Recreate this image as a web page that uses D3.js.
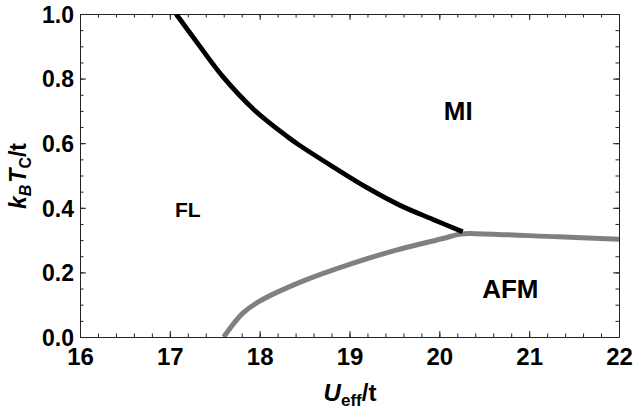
<!DOCTYPE html>
<html>
<head>
<meta charset="utf-8">
<script src="https://cdn.jsdelivr.net/npm/d3@7"></script>
<style>
  body { margin: 0; background: #fff; }
  svg { display: block; font-family: "Liberation Sans", Arial, sans-serif; font-weight: bold; }
  .axis path, .axis line { stroke: #222; stroke-width: 1; }
</style>
</head>
<body>
<div id="wrapper"></div>
<script>
// phase boundaries
const flMiU = [17.07, 17.31, 17.59, 17.94, 18.31, 18.44, 18.81, 19.19, 19.56, 19.93, 20.26];
const flMiT = [1.0, 0.909, 0.806, 0.703, 0.62, 0.594, 0.528, 0.463, 0.408, 0.364, 0.326];

const afmU = [17.6, 17.81, 18.0, 18.48, 19.0, 19.52, 20.04, 20.24, 20.4, 21.33, 22];
const afmT = [0, 0.073, 0.111, 0.173, 0.225, 0.269, 0.305, 0.319, 0.32, 0.31, 0.303];

const xTicks = [16, 17, 18, 19, 20, 21, 22];
const yTicks = [0, 0.2, 0.4, 0.6, 0.8, 1.0];
const xMinor = d3.range(16, 22.001, 0.2);
const yMinor = d3.range(0, 1.0001, 0.05);

const phaseLabels = [
  { text: "MI", u: 20.21, t: 0.672, size: 26 },
  { text: "FL", u: 17.2, t: 0.372, size: 21 },
  { text: "AFM", u: 20.79, t: 0.121, size: 26 }
];

const dimensions = {
  width: 636,
  height: 409,
  margin: { top: 14, right: 17, bottom: 72, left: 80 }
};
dimensions.boundedWidth = dimensions.width - dimensions.margin.left - dimensions.margin.right;
dimensions.boundedHeight = dimensions.height - dimensions.margin.top - dimensions.margin.bottom;

const svg = d3.select("#wrapper").append("svg")
  .attr("width", dimensions.width)
  .attr("height", dimensions.height);

const bounds = svg.append("g")
  .attr("transform", `translate(${dimensions.margin.left},${dimensions.margin.top})`);

const xScale = d3.scaleLinear().domain([16, 22]).range([0, dimensions.boundedWidth]);
const yScale = d3.scaleLinear().domain([0, 1]).range([dimensions.boundedHeight, 0]);

// frame with inward ticks on all sides
function addAxis(axis, transform, values, size, labels) {
  return bounds.append("g").attr("class", "axis").attr("transform", transform)
    .call(axis.tickValues(values).tickSizeInner(-size).tickSizeOuter(0)
      .tickFormat(labels ? labels : ""));
}

const W = dimensions.boundedWidth, H = dimensions.boundedHeight;
addAxis(d3.axisBottom(xScale), `translate(0,${H})`, xMinor, 3.5);
addAxis(d3.axisTop(xScale), "translate(0,0)", xMinor, 3.5);
addAxis(d3.axisLeft(yScale), "translate(0,0)", yMinor, 3.5);
addAxis(d3.axisRight(yScale), `translate(${W},0)`, yMinor, 3.5);

const xAxis = addAxis(d3.axisBottom(xScale), `translate(0,${H})`, xTicks, 6, d3.format("d"));
addAxis(d3.axisTop(xScale), "translate(0,0)", xTicks, 6);
const yAxis = addAxis(d3.axisLeft(yScale), "translate(0,0)", yTicks, 6, d3.format(".1f"));
addAxis(d3.axisRight(yScale), `translate(${W},0)`, yTicks, 6);

xAxis.selectAll("text")
  .attr("y", 28).attr("dy", 0)
  .style("font-size", "24px").style("font-weight", "bold").attr("fill", "#000");
yAxis.selectAll("text")
  .attr("x", -6).attr("dy", "0.36em")
  .style("font-size", "23px").style("font-weight", "bold").attr("fill", "#000");

// curves
bounds.append("clipPath").attr("id", "clip")
  .append("rect").attr("width", W).attr("height", H);

const lineGen = d3.line()
  .x(d => xScale(d[0]))
  .y(d => yScale(d[1]))
  .curve(d3.curveCatmullRom.alpha(0.5));

bounds.append("path")
  .attr("clip-path", "url(#clip)")
  .attr("d", lineGen(d3.zip(afmU, afmT)))
  .attr("fill", "none")
  .attr("stroke", "#808080")
  .attr("stroke-width", 5);

bounds.append("path")
  .attr("clip-path", "url(#clip)")
  .attr("d", lineGen(d3.zip(flMiU, flMiT)))
  .attr("fill", "none")
  .attr("stroke", "#000")
  .attr("stroke-width", 4.8);

// phase labels
bounds.selectAll(".phase")
  .data(phaseLabels)
  .enter().append("text")
  .attr("class", "phase")
  .attr("x", d => xScale(d.u))
  .attr("y", d => yScale(d.t))
  .attr("text-anchor", "middle")
  .style("font-size", d => d.size + "px")
  .text(d => d.text);

// axis titles
const xTitle = svg.append("text")
  .attr("x", 350).attr("y", 401)
  .attr("text-anchor", "middle")
  .style("font-size", "24px");
xTitle.append("tspan").style("font-style", "italic").text("U");
xTitle.append("tspan").attr("dy", 5).style("font-size", "17px").text("eff");
xTitle.append("tspan").attr("dy", -5).text("/t");

const yTitle = svg.append("text")
  .attr("transform", "translate(26,176) rotate(-90)")
  .attr("text-anchor", "middle")
  .style("font-size", "23px");
yTitle.append("tspan").style("font-style", "italic").text("k");
yTitle.append("tspan").attr("dy", 5).style("font-size", "16px").style("font-style", "italic").text("B");
yTitle.append("tspan").attr("dy", -5).attr("dx", 2).style("font-style", "italic").text("T");
yTitle.append("tspan").attr("dy", 5).style("font-size", "16px").text("C");
yTitle.append("tspan").attr("dy", -5).text("/t");
</script>
</body>
</html>
